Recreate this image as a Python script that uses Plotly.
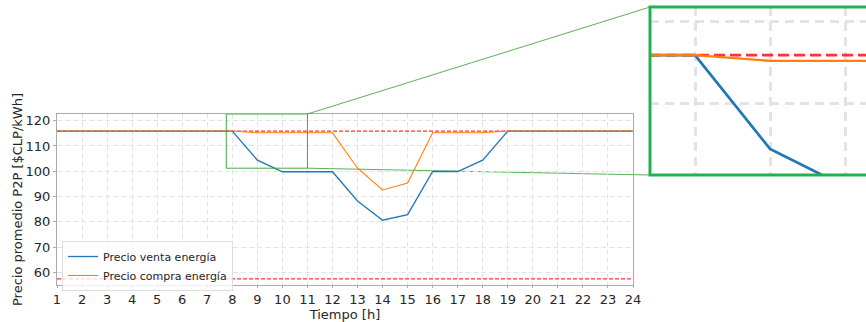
import plotly.graph_objects as go

# Hourly average P2P prices
horas = list(range(1, 25))
precio_venta = [115.9, 115.9, 115.9, 115.9, 115.9, 115.9, 115.9, 115.9,
                104.4, 99.8, 99.8, 99.8, 88.2, 80.6, 82.8, 99.9,
                99.9, 104.4, 115.9, 115.9, 115.9, 115.9, 115.9, 115.9]
precio_compra = [115.9, 115.9, 115.9, 115.9, 115.9, 115.9, 115.9, 115.9,
                 115.2, 115.2, 115.2, 115.2, 101.2, 92.6, 95.3, 115.2,
                 115.2, 115.2, 115.9, 115.9, 115.9, 115.9, 115.9, 115.9]
# Grid tariff limits (upper / lower)
limite_superior = 115.9
limite_inferior = 57.4

x_ticks = list(range(1, 25))
y_ticks = [60, 70, 80, 90, 100, 110, 120]

# Zoomed region
zoom_x = [7.76, 11.0]
zoom_y = [101.2, 122.65]

W, H = 866, 322
# Main axes box in pixels
AX_L, AX_R, AX_T, AX_B = 57, 633, 114, 285
X_RANGE = [1, 24]
Y_RANGE = [54.97, 122.65]
# Inset axes box in pixels (runs off the right edge)
IN_L, IN_T, IN_B = 650, 7, 175
IN_X_RANGE = [7.4, 7.4 + (W - IN_L) / 75.0]
IN_Y_RANGE = [101.2, 121.8]

AZUL = "#1f77b4"
NARANJA = "#ff7f0e"
ROJO = "rgba(255,0,0,0.8)"
VERDE = "#2ca02c"
VERDE_MARCO = "#22b24c"
GRID = "#e3e3e3"
FONT = "DejaVu Sans"


def px_to_paper_x(px):
    return px / W


def px_to_paper_y(py):
    return (H - py) / H


def main_to_paper(x, y):
    fx = (x - X_RANGE[0]) / (X_RANGE[1] - X_RANGE[0])
    fy = (y - Y_RANGE[0]) / (Y_RANGE[1] - Y_RANGE[0])
    px = AX_L + fx * (AX_R - AX_L)
    py = AX_B - fy * (AX_B - AX_T)
    return px_to_paper_x(px), px_to_paper_y(py)


fig = go.Figure()

for xa, ya, w, show in [("x", "y", 1.0, True), ("x2", "y2", 2.1, False)]:
    dash = "4px,2px" if show else "11px,5px"
    fig.add_trace(go.Scatter(x=[horas[0], horas[-1]], y=[limite_superior] * 2,
                             mode="lines", line=dict(color=ROJO, width=w * 1.2, dash=dash),
                             showlegend=False, hoverinfo="skip", xaxis=xa, yaxis=ya))
    fig.add_trace(go.Scatter(x=[horas[0], horas[-1]], y=[limite_inferior] * 2,
                             mode="lines", line=dict(color=ROJO, width=w * 1.2, dash=dash),
                             showlegend=False, hoverinfo="skip", xaxis=xa, yaxis=ya))
    fig.add_trace(go.Scatter(x=horas, y=precio_venta, mode="lines",
                             name="Precio venta energía", legendgroup="v",
                             line=dict(color=AZUL, width=w * 1.3),
                             showlegend=show, xaxis=xa, yaxis=ya))
    fig.add_trace(go.Scatter(x=horas, y=precio_compra, mode="lines",
                             name="Precio compra energía", legendgroup="c",
                             line=dict(color=NARANJA, width=w * 1.1),
                             showlegend=show, xaxis=xa, yaxis=ya))

axis_common = dict(showline=True, mirror=True, linecolor="#aaaaaa", linewidth=1,
                   showgrid=True, gridcolor=GRID, griddash="5px,3px", gridwidth=1,
                   zeroline=False, automargin=False)

fig.update_layout(
    width=W, height=H,
    margin=dict(l=0, r=0, t=0, b=0, autoexpand=False),
    paper_bgcolor="white", plot_bgcolor="white",
    font=dict(family=FONT, color="#262626", size=13),
    xaxis=dict(domain=[px_to_paper_x(AX_L), px_to_paper_x(AX_R)], range=X_RANGE,
               tickmode="array", tickvals=x_ticks, ticks="outside", ticklen=2,
               tickcolor="#aaaaaa", tickfont=dict(size=13),
               title=dict(text="Tiempo [h]", font=dict(size=13), standoff=0),
               **axis_common),
    yaxis=dict(domain=[px_to_paper_y(AX_B), px_to_paper_y(AX_T)], range=Y_RANGE,
               tickmode="array", tickvals=y_ticks, ticks="outside", ticklen=3,
               tickcolor="#aaaaaa", tickfont=dict(size=13),
               title=dict(text="Precio promedio P2P [$CLP/kWh]", font=dict(size=13), standoff=0),
               **axis_common),
    xaxis2=dict(domain=[px_to_paper_x(IN_L), 1.0], range=IN_X_RANGE, anchor="y2",
                tickmode="array", tickvals=x_ticks, showticklabels=False,
                showline=False, showgrid=True, gridcolor=GRID, griddash="9px,6px",
                gridwidth=2.5, zeroline=False, automargin=False),
    yaxis2=dict(domain=[px_to_paper_y(IN_B), px_to_paper_y(IN_T)], range=IN_Y_RANGE,
                anchor="x2", tickmode="array", tickvals=y_ticks, showticklabels=False,
                showline=False, showgrid=True, gridcolor=GRID, griddash="9px,6px",
                gridwidth=2.5, zeroline=False, automargin=False),
    legend=dict(x=px_to_paper_x(62), y=px_to_paper_y(241), xanchor="left", yanchor="top",
                bgcolor="rgba(255,255,255,0.8)", bordercolor="#dddddd", borderwidth=1,
                font=dict(size=11, color="#262626"), tracegroupgap=0,
                itemwidth=30),
    showlegend=True,
)

# Rectangle marking the zoomed region on the main axes
fig.add_shape(type="rect", xref="x", yref="y",
              x0=zoom_x[0], x1=zoom_x[1], y0=zoom_y[0], y1=zoom_y[1],
              line=dict(color=VERDE, width=0.9), layer="above")

# Connector lines from the zoomed region to the inset
tr_x, tr_y = main_to_paper(zoom_x[1], zoom_y[1])
br_x, br_y = main_to_paper(zoom_x[1], zoom_y[0])
fig.add_shape(type="line", xref="paper", yref="paper",
              x0=tr_x, y0=tr_y, x1=px_to_paper_x(IN_L), y1=px_to_paper_y(IN_T),
              line=dict(color=VERDE, width=0.8), layer="above")
fig.add_shape(type="line", xref="paper", yref="paper",
              x0=br_x, y0=br_y, x1=px_to_paper_x(IN_L), y1=px_to_paper_y(IN_B),
              line=dict(color=VERDE, width=0.8), layer="below")

# Inset frame
fig.add_shape(type="rect", xref="paper", yref="paper",
              x0=px_to_paper_x(IN_L), x1=1.05,
              y0=px_to_paper_y(IN_B), y1=px_to_paper_y(IN_T),
              line=dict(color=VERDE_MARCO, width=3), layer="above")

fig.write_html("out.html")
